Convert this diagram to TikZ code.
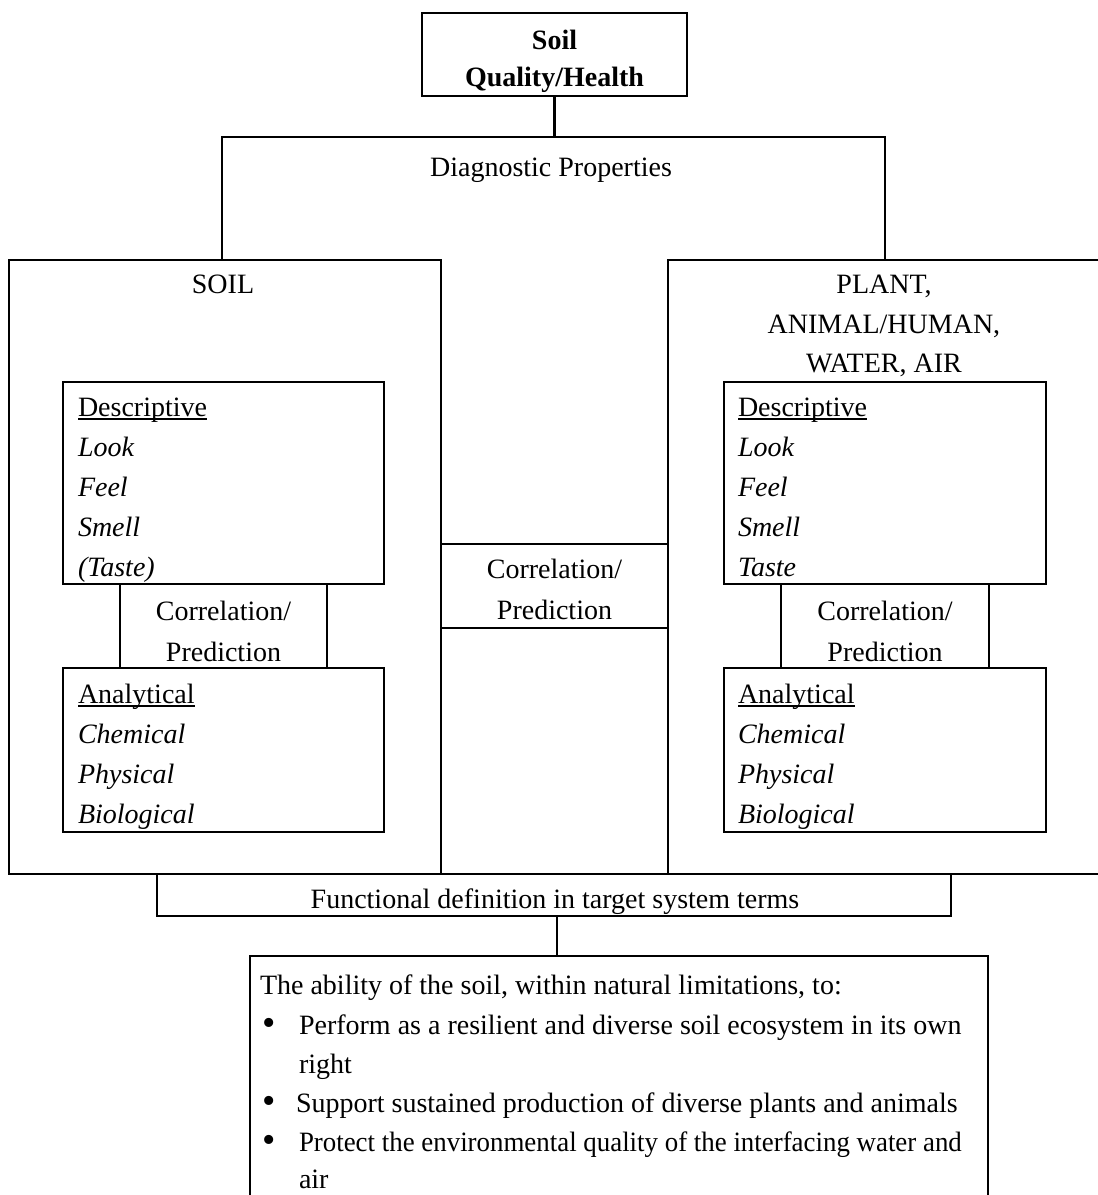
\documentclass[tikz,border=0pt]{standalone}
\usepackage{fontspec}
\usepackage{graphicx}
\setmainfont{Liberation Serif}
\usetikzlibrary{fit}
\newsavebox\myulbox
\newcommand\myul[1]{\sbox\myulbox{#1}\rlap{\rule[-1.8pt]{\wd\myulbox}{0.7pt}}\usebox\myulbox}
\begin{document}
\begin{tikzpicture}[x=0.5pt,y=-0.5pt,
  box/.style={draw, line width=1.2pt, inner sep=0pt, outer sep=0pt},
  ln/.style={line width=1.2pt},
  txt/.style={inner sep=0pt, outer sep=0pt, font=\fontsize{14}{20}\selectfont},
  lt/.style={txt, anchor=base west},
  ct/.style={txt, anchor=base},
  bul/.style={inner sep=0pt, outer sep=0pt, anchor=base west, font=\fontsize{19}{20}\selectfont}]
\useasboundingbox (0,0) rectangle (1098,1195);
\clip (0,0) rectangle (1098,1195);

% boxes
\node[box, fit={(422,13) (687,96)}] (top) {};
\node[box, fit={(9,260) (441,874)}] (soilbox) {};
\node[box, fit={(668,260) (1130,874)}] (plantbox) {};
\node[box, fit={(63,382) (384,584)}] (ldesc) {};
\node[box, fit={(120,584) (327,668)}] (lcorr) {};
\node[box, fit={(63,668) (384,832)}] (lana) {};
\node[box, fit={(724,382) (1046,584)}] (rdesc) {};
\node[box, fit={(781,584) (989,668)}] (rcorr) {};
\node[box, fit={(724,668) (1046,832)}] (rana) {};
\node[box, fit={(441,544) (668,628)}] (mcorr) {};
\node[box, fit={(157,874) (951,916)}] (func) {};
\node[box, fit={(250,956) (988,1240)}] (bot) {};

% connectors
\coordinate (bar) at (554.5,137);
\coordinate (jl) at (222,260);
\coordinate (jr) at (885,260);
\coordinate (fx) at (557,0);
\draw[ln] (top.south) -- (bar);
\draw[ln] (jl) |- (bar) -| (jr);
\draw[ln] (func.south -| fx) -- (bot.north -| fx);

% texts
\node[ct, font=\fontsize{14}{20}\selectfont\bfseries] (t1) at (554.5,49) {Soil};
\node[ct, font=\fontsize{14}{20}\selectfont\bfseries] (t2) at (554.5,86) {Quality/Health};
\node[ct] (diag) at (551,176) {Diagnostic Properties};
\node[ct] (soilt) at (223,293) {SOIL};
\node[ct] (p1) at (884,293) {PLANT,};
\node[ct] (p2) at (884,333) {ANIMAL/HUMAN,};
\node[ct] (p3) at (884,372) {WATER, AIR};

\foreach \t/\y [count=\i] in {{\myul{Descriptive}}/416,{\textit{Look}}/456,{\textit{Feel}}/496,{\textit{Smell}}/536,{\textit{(Taste)}}/576}
  \node[lt] (ld\i) at (78,\y) {\t};
\foreach \t/\y [count=\i] in {{\myul{Descriptive}}/416,{\textit{Look}}/456,{\textit{Feel}}/496,{\textit{Smell}}/536,{\textit{Taste}}/576}
  \node[lt] (rd\i) at (738,\y) {\t};
\foreach \t/\y [count=\i] in {{\myul{Analytical}}/703,{\textit{Chemical}}/743,{\textit{Physical}}/783,{\textit{Biological}}/823}
  {\node[lt] (la\i) at (78,\y) {\t};
   \node[lt] (ra\i) at (738,\y) {\t};}

\node[ct] (lc1) at (223.5,620) {Correlation/};
\node[ct] (lc2) at (223.5,661) {Prediction};
\node[ct] (rc1) at (885,620) {Correlation/};
\node[ct] (rc2) at (885,661) {Prediction};
\node[ct] (mc1) at (554.5,578) {Correlation/};
\node[ct] (mc2) at (554.5,619) {Prediction};

\node[ct] (funct) at (555,908) {Functional definition in target system terms};

\node[lt] (b0) at (260,994) {The ability of the soil, within natural limitations, to:};
\node[bul] (bb1) at (262,1035) {•};
\node[lt] (b1) at (299,1034) {Perform as a resilient and diverse soil ecosystem in its own};
\node[lt] (b1b) at (299,1073) {right};
\node[bul] (bb2) at (262,1113) {•};
\node[lt] (b2) at (296,1112) {Support sustained production of diverse plants and animals};
\node[bul] (bb3) at (262,1152) {•};
\node[lt] (b3) at (299,1151) {\scalebox{0.96}[1]{Protect the environmental quality of the interfacing water and}};
\node[lt] (b3b) at (299,1188) {air};
\end{tikzpicture}
\end{document}
